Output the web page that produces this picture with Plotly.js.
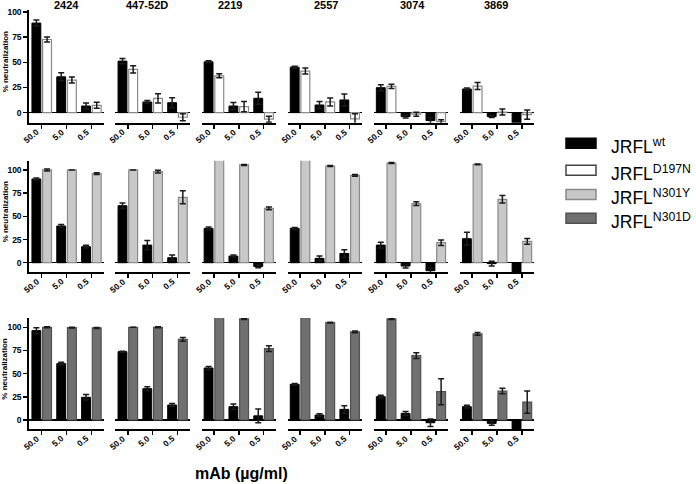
<!DOCTYPE html>
<html>
<head>
<meta charset="utf-8">
<script src="https://cdn.plot.ly/plotly-3.0.1.min.js"></script>
<style>html,body{margin:0;padding:0;background:#fff;}#chart{width:696px;height:484px;}</style>
</head>
<body>
<div id="chart"></div>
<script>
// ---- Data ----
const antibodies = ["2424", "447-52D", "2219", "2557", "3074", "3869"];
const concentrations = ["50.0", "5.0", "0.5"];
const yTicks = [0, 25, 50, 75, 100];
const seriesNames = ["JRFL", "JRFL", "JRFL", "JRFL"];
const seriesSups = ["wt", "D197N", "N301Y", "N301D"];

// Row 1: JRFL wt vs JRFL D197N (% neutralization, per antibody: 50.0, 5.0, 0.5 µg/ml)
const r1_wt      = [[89, 35.6, 6.6], [51.2, 10.6, 9.9], [50.5, 6.6, 14.3], [45.2, 7.6, 12.6], [24.8, -3.9, -7.9], [23.5, -3.9, -15]];
const r1_wt_err  = [[3, 4, 3], [2.5, 1.5, 5], [1, 3.5, 6], [1, 3.5, 6], [3, 1.5, 3], [1, 1, 0]];
const r1_mut     = [[72.7, 32.4, 7.3], [43, 14.2, -4.6], [36.6, 6, -6.5], [41.3, 10.6, -6.2], [26.1, -1.5, -9], [26.4, 0.6, -2]];
const r1_mut_err = [[2.5, 3, 3], [3.5, 4.5, 3.5], [2, 5, 3], [3, 4, 5], [2, 2, 2], [3.5, 3, 4.5]];

// Row 2: JRFL wt vs JRFL N301Y
const r2_wt      = [[90.3, 39.6, 17.3], [61.5, 19, 5.4], [37, 7.2, -4], [37.1, 4.7, 10], [19, -3.6, -8.6], [25.9, -1, -15]];
const r2_wt_err  = [[1, 1.5, 1.5], [3, 5, 3], [1.5, 1, 1.5], [1, 2.5, 4], [3, 2, 3], [7, 2.5, 0]];
const r2_mut     = [[100, 100, 96], [100, 98.2, 70.5], [115, 105.4, 58.7], [112, 104.3, 94.2], [107.5, 63.7, 21.6], [106, 68.4, 23]];
const r2_mut_err = [[1, 0, 1], [0, 1.5, 7], [0, 0.5, 1.5], [0, 0.5, 1], [0.5, 2, 3], [0.5, 4, 3]];

// Row 3: JRFL wt vs JRFL N301D
const r3_wt      = [[96.4, 60.8, 24.5], [73.7, 33.8, 16.2], [56.1, 14.4, 4.5], [38.5, 5.4, 11.5], [25.2, 7.2, -2.9], [14.4, -3.6, -15]];
const r3_wt_err  = [[3, 1.5, 3], [0.5, 2, 1.5], [1.5, 3, 7.5], [1, 1.5, 4], [1.5, 2, 4], [1.5, 2, 0]];
const r3_mut     = [[100, 99.6, 99.3], [100, 100, 87], [115, 109, 77], [112, 105, 95], [109, 69.4, 30.6], [92.8, 31.3, 19.4]];
const r3_mut_err = [[0.5, 0.5, 0.5], [0, 0.5, 2], [0, 0.5, 3], [0, 0.5, 1], [0.5, 3, 14], [1.5, 3, 12]];

const rows = [
  {wt: r1_wt, wtErr: r1_wt_err, mut: r1_mut, mutErr: r1_mut_err, mutIdx: 1, yr: [-10, 102], px: [10, 122.7]},
  {wt: r2_wt, wtErr: r2_wt_err, mut: r2_mut, mutErr: r2_mut_err, mutIdx: 2, yr: [-10, 110], px: [160.7, 272]},
  {wt: r3_wt, wtErr: r3_wt_err, mut: r3_mut, mutErr: r3_mut_err, mutIdx: 3, yr: [-10, 110], px: [318, 429.3]}
];

// ---- Styling ----
const W = 696, H = 484;
const FONT = "Liberation Sans, Arial, Helvetica, sans-serif";
const fills = ["#000000", "#ffffff", "#c8c8c8", "#707070"];
const outlines = ["#000000", "#8a8a8a", "#8a8a8a", "#505050"];
const px2x = p => p / W;
const px2y = p => 1 - p / H;
const colStart = c => 29.3 + 86.1 * c;
const colWidth = 74.5;

const traces = [];
const layout = {
  width: W, height: H,
  margin: {l: 0, r: 0, t: 0, b: 0},
  paper_bgcolor: "#fff", plot_bgcolor: "rgba(0,0,0,0)",
  showlegend: false,
  barmode: "group", bargap: 0.14, bargroupgap: 0.17,
  font: {family: FONT, color: "#000"},
  annotations: [], shapes: []
};

rows.forEach((row, r) => {
  antibodies.forEach((ab, c) => {
    const i = r * 6 + c + 1;
    const xa = "x" + i, ya = "y" + i;
    const errStyle = {type: "data", visible: true, color: "#1a1a1a", thickness: 1.5, width: 3};
    traces.push({
      type: "bar", x: concentrations, y: row.wt[c], xaxis: xa, yaxis: ya,
      marker: {color: fills[0], line: {color: outlines[0], width: 1}},
      error_y: Object.assign({array: row.wtErr[c]}, errStyle), hoverinfo: "y"
    });
    traces.push({
      type: "bar", x: concentrations, y: row.mut[c], xaxis: xa, yaxis: ya,
      marker: {color: fills[row.mutIdx], line: {color: outlines[row.mutIdx], width: 1.2}},
      error_y: Object.assign({array: row.mutErr[c]}, errStyle), hoverinfo: "y"
    });
    const s = colStart(c);
    layout["xaxis" + i] = {
      domain: [px2x(s), px2x(s + colWidth)], anchor: ya, type: "category",
      categoryarray: concentrations, categoryorder: "array",
      range: [-0.5, 2.5], showline: true, linecolor: "#000", linewidth: 2,
      ticks: "outside", ticklen: 4, tickwidth: 1.5, tickcolor: "#000",
      showticklabels: false,
      showgrid: false, zeroline: false, fixedrange: true
    };
    const first = c === 0;
    layout["yaxis" + i] = {
      domain: [px2y(row.px[1]), px2y(row.px[0])], anchor: xa,
      range: row.yr, showgrid: false,
      zeroline: true, zerolinecolor: "#000", zerolinewidth: 1.5,
      showline: first, linecolor: "#000", linewidth: 2,
      ticks: first ? "outside" : "", ticklen: 4, tickwidth: 1.5, tickcolor: "#000",
      tickvals: yTicks, showticklabels: first,
      tickfont: {family: FONT, size: 8.5, weight: "bold", color: "#000"},
      fixedrange: true
    };
    // rotated concentration labels placed on the category scale (index) of this axis
    concentrations.forEach((conc, k) => {
      layout.annotations.push({
        xref: xa, yref: "paper", x: k, y: px2y(row.px[1] + 1.5),
        text: conc, textangle: -40, showarrow: false,
        xanchor: "right", yanchor: "top", xshift: 2,
        font: {family: FONT, size: 8.5, weight: "bold", color: "#000"}
      });
    });
  });
  // y-axis title for each row
  layout.annotations.push({
    xref: "paper", yref: "paper", x: px2x(5), y: px2y((row.px[0] + row.px[1]) / 2 - 4),
    text: "% neutralization", textangle: -90, showarrow: false,
    xanchor: "center", yanchor: "middle",
    font: {family: FONT, size: 8, weight: "bold", color: "#000"}
  });
});

// Column titles
const titleCenters = [66.5, 147, 230, 325.5, 412, 496];
antibodies.forEach((ab, c) => {
  layout.annotations.push({
    xref: "paper", yref: "paper", x: px2x(titleCenters[c]), y: px2y(5),
    text: ab, showarrow: false, xanchor: "center", yanchor: "middle",
    font: {family: FONT, size: 11, weight: "bold", color: "#000"}
  });
});

// X axis title
layout.annotations.push({
  xref: "paper", yref: "paper", x: px2x(241.5), y: px2y(473),
  text: "mAb (µg/ml)", showarrow: false, xanchor: "center", yanchor: "middle",
  font: {family: FONT, size: 16, weight: "bold", color: "#000"}
});

// Legend (drawn)
const legRectCenters = [143.3, 170.3, 194.5, 218.3];
seriesSups.forEach((sup, k) => {
  const cy = legRectCenters[k];
  layout.shapes.push({
    type: "rect", xref: "paper", yref: "paper",
    x0: px2x(566), x1: px2x(596), y0: px2y(cy + 5), y1: px2y(cy - 5),
    fillcolor: fills[k], line: {color: k === 0 ? "#000" : (k === 1 ? "#444" : outlines[k]), width: 1.5}
  });
  layout.annotations.push({
    xref: "paper", yref: "paper", x: px2x(609), y: px2y(cy + 2.5),
    text: seriesNames[k] + "<sup>" + sup + "</sup>", showarrow: false,
    xanchor: "left", yanchor: "middle",
    font: {family: FONT, size: 17.5, color: "#000"}
  });
});

Plotly.newPlot("chart", traces, layout, {staticPlot: true, displayModeBar: false});
</script>
</body>
</html>
